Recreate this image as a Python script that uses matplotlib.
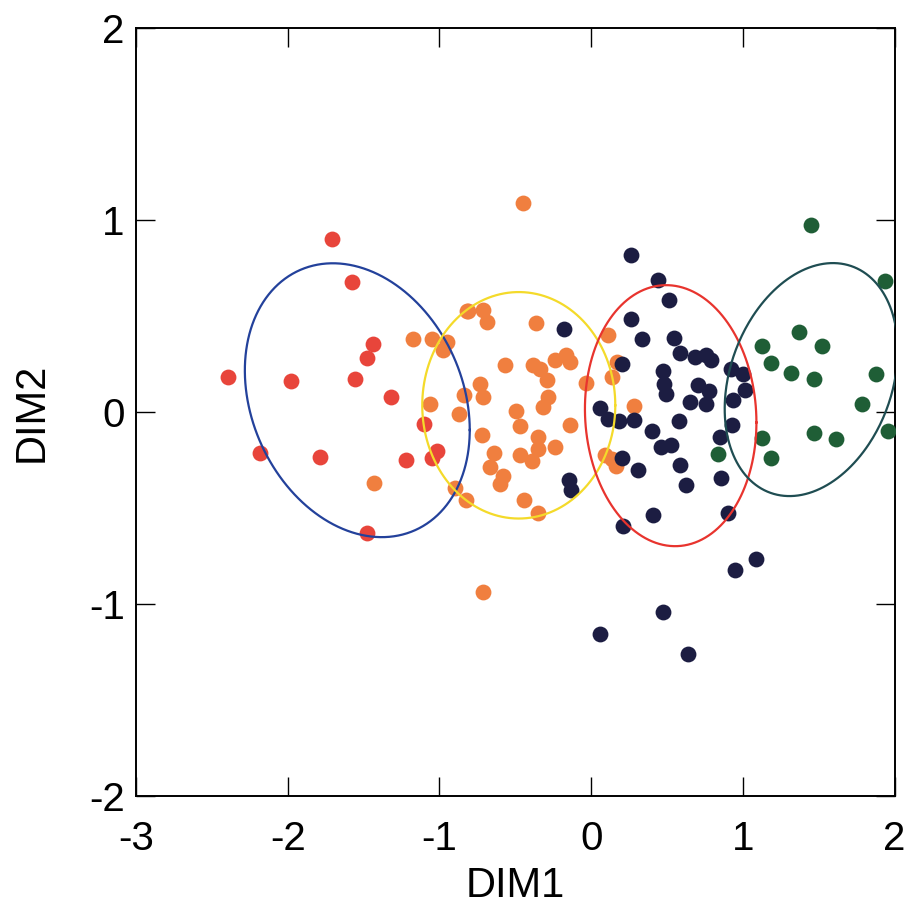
import numpy as np
import matplotlib
matplotlib.use("Agg")
import matplotlib.pyplot as plt

plt.rcParams['font.family'] = ['Liberation Sans', 'DejaVu Sans']
plt.rcParams['axes.unicode_minus'] = False

# cluster points (DIM1, DIM2)
red_x = [-1.707, -1.577, -1.44, -1.476, -2.394, -1.981, -1.553, -1.316, -1.103,
         -2.183, -1.788, -1.217, -1.013, -1.052, -1.474]
red_y = [0.90, 0.68, 0.354, 0.283, 0.184, 0.161, 0.173, 0.08, -0.059,
         -0.215, -0.233, -0.25, -0.20, -0.238, -0.627]

orange_x = [-1.173, -1.048, -0.953, -0.975, -0.81, -1.063, -0.872, -0.837, -1.43,
            -0.90, -0.822, -0.449, -0.815, -0.712, -0.686, -0.361, -0.569, -0.383,
            -0.339, -0.24, -0.163, -0.141, -0.294, -0.031, -0.734, -0.712, -0.284,
            -0.317, -0.492, -0.47, -0.137, -0.719, -0.35, -0.24, -0.35, -0.64,
            -0.47, -0.393, -0.668, -0.58, -0.602, -0.444, -0.35, -0.712, 0.111,
            0.171, 0.14, 0.283, 0.09, 0.14, 0.166]
orange_y = [0.379, 0.379, 0.366, 0.323, 0.526, 0.042, -0.007, 0.092, -0.371,
            -0.397, -0.458, 1.09, 0.528, 0.535, 0.47, 0.465, 0.245, 0.245,
            0.227, 0.27, 0.297, 0.262, 0.167, 0.153, 0.149, 0.08, 0.08,
            0.028, 0.005, -0.073, -0.068, -0.12, -0.128, -0.181, -0.194, -0.212,
            -0.224, -0.253, -0.288, -0.333, -0.375, -0.455, -0.523, -0.936, 0.40,
            0.262, 0.184, 0.031, -0.224, -0.246, -0.281]

navy_x = [-0.18, -0.146, -0.13, 0.265, 0.441, 0.513, 0.265, 0.338, 0.544, 0.584,
          0.682, 0.755, 0.792, 0.474, 0.20, 0.924, 1.001, 0.478, 0.491, 0.704,
          0.777, 1.012, 0.65, 0.76, 0.935, 0.061, 0.111, 0.184, 0.283, 0.577,
          0.931, 0.404, 0.847, 0.463, 0.529, 0.206, 0.309, 0.584, 0.858, 0.628,
          0.902, 0.408, 0.21, 1.089, 0.946, 0.474, 0.061, 0.638]
navy_y = [0.436, -0.351, -0.406, 0.821, 0.691, 0.587, 0.488, 0.384, 0.387, 0.306,
          0.288, 0.297, 0.274, 0.215, 0.253, 0.227, 0.201, 0.146, 0.094, 0.141,
          0.111, 0.115, 0.054, 0.045, 0.063, 0.024, -0.036, -0.047, -0.042, -0.045,
          -0.068, -0.097, -0.128, -0.18, -0.172, -0.236, -0.299, -0.273, -0.345, -0.38,
          -0.524, -0.536, -0.594, -0.767, -0.82, -1.04, -1.158, -1.26]

green_x = [1.128, 1.187, 1.128, 1.187, 0.836, 1.451, 1.934, 1.37, 1.523,
           1.319, 1.469, 1.875, 1.785, 1.956, 1.467, 1.611]
green_y = [0.344, 0.257, -0.132, -0.241, -0.22, 0.974, 0.682, 0.418, 0.345,
           0.205, 0.175, 0.198, 0.045, -0.097, -0.108, -0.139]

# ellipses: centre x, centre y, half width, half height, covariance term
ell_cx = [-1.541, -0.477, 0.524, 1.45]
ell_cy = [0.0625, 0.036, -0.018, 0.17]
ell_hx = [0.741, 0.636, 0.565, 0.57]
ell_hy = [0.7135, 0.59, 0.68, 0.607]
ell_c = [-0.115, 0.0, -0.02, 0.087]
ell_colors = ['#23419b', '#f4da2a', '#e8342e', '#1f4d52']


def ellipse_xy(cx, cy, hx, hy, c, n=300):
    m = np.array([[hx ** 2, c], [c, hy ** 2]])
    L = np.linalg.cholesky(m)
    t = np.linspace(0, 2 * np.pi, n)
    pts = L @ np.vstack([np.cos(t), np.sin(t)])
    return cx + pts[0], cy + pts[1]


fig = plt.figure(figsize=(9.12, 9.15), dpi=100)
ax = fig.add_axes([0.149, 0.13, 0.832, 0.839])

ms = 130
ax.scatter(red_x, red_y, s=ms, color='#e8453b', zorder=3, linewidths=0)
ax.scatter(orange_x, orange_y, s=ms, color='#f07f3f', zorder=3, linewidths=0)
ax.scatter(navy_x, navy_y, s=ms, color='#1c1d42', zorder=3, linewidths=0)
ax.scatter(green_x, green_y, s=ms, color='#1f5e36', zorder=3, linewidths=0)

for i in range(len(ell_cx)):
    ex, ey = ellipse_xy(ell_cx[i], ell_cy[i], ell_hx[i], ell_hy[i], ell_c[i])
    ax.plot(ex, ey, color=ell_colors[i], lw=1.6, zorder=4)

ax.set_xlim(-3, 2)
ax.set_ylim(-2, 2)
ax.set_xticks([-3, -2, -1, 0, 1, 2])
ax.set_yticks([-2, -1, 0, 1, 2])
ax.tick_params(direction='in', length=14, width=1.0, labelsize=29,
               top=True, right=True, pad=8)
ax.tick_params(axis='x', pad=17)
for sp in ax.spines.values():
    sp.set_linewidth(1.4)
ax.set_xlabel('DIM1', fontsize=30, labelpad=6)
ax.set_ylabel('DIM2', fontsize=30, labelpad=27)

fig.savefig('out.png', dpi=100)
